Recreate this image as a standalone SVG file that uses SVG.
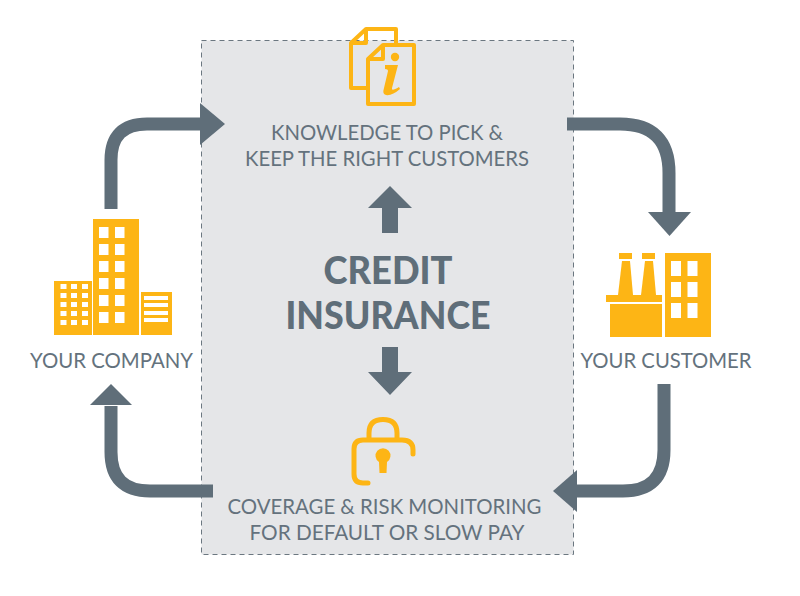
<svg xmlns="http://www.w3.org/2000/svg" width="800" height="596" viewBox="0 0 800 596">
<style>
text{font-family:Lato,"Open Sans",sans-serif;fill:#64727d;text-anchor:middle}
.lbl{font-size:21.500px}
.big{font-size:38px;font-weight:900;fill:#5f6e79}
.y{fill:#fdb515}
.w{fill:#fff}
.o{fill:none;stroke:#fdb515;stroke-width:4;stroke-linejoin:round}
.l{stroke-width:5;stroke-linecap:round}
.c{fill:none;stroke:#5f6e79;stroke-width:13}
.h{fill:#5f6e79}
</style>
<rect width="800" height="596" fill="#fff"/>
<rect id="panel" x="201.500" y="40.500" width="372" height="514" fill="#e5e6e8" stroke="#6b7780" stroke-width="1" stroke-dasharray="5 4"/>
<g id="connectors">
<path class="c" d="M111 209V160Q111 124 147 124H204"/><path class="h" d="M200 103L225 124L200 145Z"/>
<path class="c" d="M567 124H620Q669 124 669 173V215"/><path class="h" d="M648 212H691L669.500 236Z"/>
<path class="c" d="M664 384V450Q664 491 623 491H575"/><path class="h" d="M577 470L553 491L577 512Z"/>
<path class="c" d="M213 491H150Q111 491 111 452V406"/><path class="h" d="M90 405L111 384L132 405Z"/>
<path class="h" d="M390 186L412 208H398V233H382V208H368Z"/>
<path class="h" d="M382 347H398V372H412L390 395L368 372H382Z"/>
</g>
<g id="doc-icon">
<path class="o" d="M366 88H351V43L366 29H396V43"/>
<path class="o" d="M351 43H366V29"/>
<path class="o" d="M383 45H414V104H368V59Z"/>
<path class="o" d="M368 59H383V45"/>
<circle class="y" cx="395" cy="57" r="4.200"/>
<path class="y" d="M385 65H398L392 88Q391 92 399 87L400 89Q392 96 386 95Q382 94 384 88L388 71Q388 69 385 69Z"/>
</g>
<g id="knowledge-label">
<text class="lbl" x="387" y="140" textLength="232" lengthAdjust="spacingAndGlyphs">KNOWLEDGE TO PICK &amp;</text>
<text class="lbl" x="387" y="166" textLength="284" lengthAdjust="spacingAndGlyphs">KEEP THE RIGHT CUSTOMERS</text>
</g>
<g id="credit-insurance">
<text class="big" x="388" y="284" textLength="129" lengthAdjust="spacingAndGlyphs">CREDIT</text>
<text class="big" x="388" y="329" textLength="205" lengthAdjust="spacingAndGlyphs">INSURANCE</text>
</g>
<g id="your-company">
<rect class="y" x="93" y="219" width="46" height="116"/>
<rect class="y" x="54" y="281" width="38" height="54"/>
<rect class="y" x="141" y="292" width="31" height="43"/>
<g class="w">
<rect x="99" y="227" width="9.500" height="11"/><rect x="115" y="227" width="9.500" height="11"/>
<rect x="99" y="244" width="9.500" height="11"/><rect x="115" y="244" width="9.500" height="11"/>
<rect x="99" y="261" width="9.500" height="11"/><rect x="115" y="261" width="9.500" height="11"/>
<rect x="99" y="278" width="9.500" height="11"/><rect x="115" y="278" width="9.500" height="11"/>
<rect x="99" y="295" width="9.500" height="11"/><rect x="115" y="295" width="9.500" height="11"/>
<rect x="99" y="312" width="9.500" height="11"/><rect x="115" y="312" width="9.500" height="11"/>
<rect x="60.500" y="284" width="6" height="5"/><rect x="71" y="284" width="6" height="5"/><rect x="82" y="284" width="6" height="5"/>
<rect x="60.500" y="293" width="6" height="5"/><rect x="71" y="293" width="6" height="5"/><rect x="82" y="293" width="6" height="5"/>
<rect x="60.500" y="302" width="6" height="5"/><rect x="71" y="302" width="6" height="5"/><rect x="82" y="302" width="6" height="5"/>
<rect x="60.500" y="311" width="6" height="5"/><rect x="71" y="311" width="6" height="5"/><rect x="82" y="311" width="6" height="5"/>
<rect x="60.500" y="320" width="6" height="5"/><rect x="71" y="320" width="6" height="5"/><rect x="82" y="320" width="6" height="5"/>
<rect x="144" y="296" width="24" height="4"/><rect x="144" y="303" width="24" height="4"/>
<rect x="144" y="311" width="24" height="4"/><rect x="144" y="318" width="24" height="4"/>
</g>
<text class="lbl" x="111.500" y="368" textLength="163" lengthAdjust="spacingAndGlyphs">YOUR COMPANY</text>
</g>
<g id="your-customer">
<rect class="y" x="665" y="253" width="46" height="84"/>
<g class="w">
<rect x="671" y="261" width="10" height="15"/><rect x="687.500" y="261" width="10" height="15"/>
<rect x="671" y="282" width="10" height="15"/><rect x="687.500" y="282" width="10" height="15"/>
<rect x="671" y="303" width="10" height="15"/><rect x="687.500" y="303" width="10" height="15"/>
</g>
<rect class="y" x="610" y="304" width="52" height="33"/>
<rect class="y" x="606" y="295" width="56" height="7"/>
<rect class="y" x="619" y="253" width="13" height="6"/>
<rect class="y" x="642" y="253" width="13" height="6"/>
<path class="y" d="M622 261H630L633 295H618Z"/>
<path class="y" d="M645 261H653L656 295H641Z"/>
<text class="lbl" x="666" y="368" textLength="171" lengthAdjust="spacingAndGlyphs">YOUR CUSTOMER</text>
</g>
<g id="lock-icon">
<path class="o l" style="stroke-linecap:butt" d="M369 438V433Q369 419.500 383 419.500Q397 419.500 397 433V438"/>
<path class="o l" d="M368 483H363Q354 483 354 474V449Q354 440 363 440H402Q413 440 413 450V454"/>
<path class="y" d="M379 462A7.500 7.500 0 1 1 387 462L386.500 473H379.500Z"/>
</g>
<g id="coverage-label">
<text class="lbl" x="384.500" y="514" textLength="314" lengthAdjust="spacingAndGlyphs">COVERAGE &amp; RISK MONITORING</text>
<text class="lbl" x="387" y="540" textLength="275" lengthAdjust="spacingAndGlyphs">FOR DEFAULT OR SLOW PAY</text>
</g>
</svg>
